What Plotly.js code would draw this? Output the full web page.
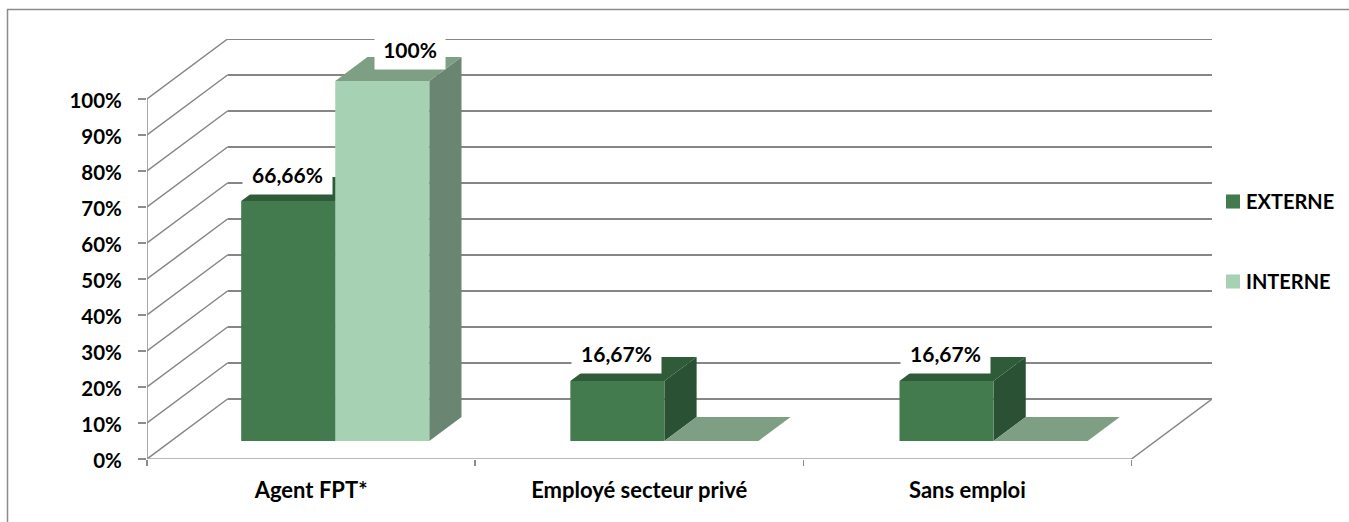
<!DOCTYPE html>
<html>
<head>
<meta charset="utf-8">
<script src="https://cdn.plot.ly/plotly-3.0.1.min.js"></script>
<style>html,body{margin:0;padding:0;background:#fff;overflow:hidden}#chart{width:1349px;height:522px}</style>
</head>
<body>
<div id="chart"></div>
<script>
const categories = ['Agent FPT*', 'Employé secteur privé', 'Sans emploi'];
const externe = [66.66, 16.67, 16.67];
const interne = [100, 0, 0];
const externeLabels = ['66,66%', '16,67%', '16,67%'];
const interneLabels = ['100%', null, null];
const yTicks = [0, 10, 20, 30, 40, 50, 60, 70, 80, 90, 100];
const yTickText = ['0%', '10%', '20%', '30%', '40%', '50%', '60%', '70%', '80%', '90%', '100%'];

const FONT = 'Lato, Carlito, sans-serif';
const W = 1349, H = 522, L = 147, T = 39, R = 1212, B = 459;
const CAT = 328, DX = 80.5 / CAT, DY = 60 / 3.6;
const GAP = 70 / CAT, BARW = 94 / CAT, D0 = 0.3, D1 = 0.7;
const GRID = '#868686';
const C = {
  ext: {front: '#437B4E', top: '#2F5B38', side: '#2A5133'},
  int: {front: '#A6D1B3', top: '#7F9F85', side: '#6A8672'}
};
const base = D0 * DY;
const shift = [(D1 - D0) * DX, (D1 - D0) * DY];
const barLeft = (i, s) => i * 329 / CAT + GAP + s * BARW + D0 * DX;

function path(points) {
  return 'M' + points.map(p => p[0] + ',' + p[1]).join('L') + 'Z';
}
const shapes = [];
function line(xs, ys, width, color, xref, yref) {
  shapes.push({type: 'path', layer: 'below', xref: xref || 'x', yref: yref || 'y',
    path: 'M' + xs.map((x, i) => x + ',' + ys[i]).join('L'),
    line: {color: color || GRID, width: width}});
}
// back wall + side wall gridlines
yTicks.forEach(v => {
  line([0, DX], [v, v + DY], 1.5);
  line([DX, 3 + DX], [v + DY, v + DY], 2);
});
// floor right edge, axis lines
line([3, 3 + DX], [0, DY], 1.5);
line([0, 3], [0, 0], 1.5, '#a0a0a0');
line([0, 0], [0, 100], 1.5, '#8c8c8c');
// frame
const pxX = p => (p - L) / (R - L), pxY = p => (B - p) / (B - T);
line([pxX(7.5), pxX(7.5), pxX(W + 5)], [pxY(H + 5), pxY(9.5), pxY(9.5)], 1.5, '#8c8c8c', 'paper', 'paper');

// 3D faces of the bars (computed from the values)
function faces(values, s, col) {
  values.forEach((v, i) => {
    const l = barLeft(i, s), r = l + BARW, t = base + v;
    if (v > 0) {
      shapes.push({type: 'path', layer: 'below', xref: 'x', yref: 'y', fillcolor: col.side, line: {width: 0},
        path: path([[r, base], [r, t], [r + shift[0], t + shift[1]], [r + shift[0], base + shift[1]]])});
    }
    shapes.push({type: 'path', layer: 'below', xref: 'x', yref: 'y', fillcolor: col.top, line: {width: 0},
      path: path([[l, t], [r, t], [r + shift[0], t + shift[1]], [l + shift[0], t + shift[1]]])});
  });
}
faces(externe, 0, C.ext);
faces(interne, 1, C.int);

function barTrace(name, values, s, col) {
  return {type: 'bar', name: name, legendgroup: name, x: values.map((v, i) => barLeft(i, s) + BARW / 2),
    y: values, base: values.map(() => base), width: values.map(() => BARW),
    marker: {color: col.front, line: {width: 0}}, hoverinfo: 'skip'};
}
const traces = [barTrace('EXTERNE', externe, 0, C.ext), barTrace('INTERNE', interne, 1, C.int)];

const annotations = [];
function labels(texts, values, s, dx, dy, w) {
  texts.forEach((t, i) => {
    if (!t) return;
    annotations.push({text: '<b>' + t + '</b>', x: barLeft(i, s) + BARW / 2, y: base + values[i],
      xref: 'x', yref: 'y', showarrow: false, xanchor: 'center', yanchor: 'middle',
      xshift: dx, yshift: dy, width: w, height: 40, borderpad: 0, bgcolor: '#fff', align: 'center',
      font: {family: FONT, size: 21, color: '#000'}});
  });
}
labels(externeLabels, externe, 0, -1, 27.5, 89);
labels(interneLabels, interne, 1, 28, 32, 70);

const layout = {
  width: W, height: H, showlegend: true, barmode: 'overlay',
  margin: {l: L, r: W - R, t: T, b: H - B, pad: 0, autoexpand: false},
  paper_bgcolor: '#fff', plot_bgcolor: 'rgba(0,0,0,0)',
  font: {family: FONT, size: 20, color: '#000'},
  xaxis: {range: [0, 3 + DX], showgrid: false, zeroline: false, showline: false, fixedrange: true,
    tickmode: 'array', tickvals: [0.5, 1.5, 2.5], ticktext: categories.map(c => '<b>' + c + '</b>'),
    ticks: '', ticklabelstandoff: 16, tickfont: {family: FONT, size: 22, color: '#000'},
    minor: {tickmode: 'array', tickvals: [0, 1, 2, 3], ticks: 'outside', ticklen: 6, tickwidth: 1.5, tickcolor: '#8c8c8c', showgrid: false}},
  yaxis: {range: [0, 100 + DY], showgrid: false, zeroline: false, showline: false, fixedrange: true,
    tickmode: 'array', tickvals: yTicks, ticktext: yTickText.map(t => '<b>' + t + '</b>'),
    ticks: 'outside', ticklen: 8, tickwidth: 1.5, tickcolor: '#8c8c8c', ticklabelstandoff: 12, ticklabelshift: 2,
    tickfont: {family: FONT, size: 20.5, color: '#000'}},
  legend: {x: (1206 - L) / (R - L), xanchor: 'left', y: pxY(182), yanchor: 'top', tracegroupgap: 51,
    font: {family: FONT, size: 20, color: '#000', weight: 'bold'}, borderwidth: 0,
    bgcolor: 'rgba(0,0,0,0)'},
  shapes: shapes, annotations: annotations
};
const gd = document.getElementById('chart');
Plotly.newPlot(gd, traces, layout, {displayModeBar: false, staticPlot: true}).then(() => {
  // legend swatches: Excel keeps them close to the text, Plotly has a fixed gap
  document.querySelectorAll('#chart .legend .traces .legendpoints path, #chart .legend .traces .legendbar path').forEach(p => {
    p.setAttribute('transform', 'translate(27,0) scale(1.17)');
  });
});
</script>
</body>
</html>
